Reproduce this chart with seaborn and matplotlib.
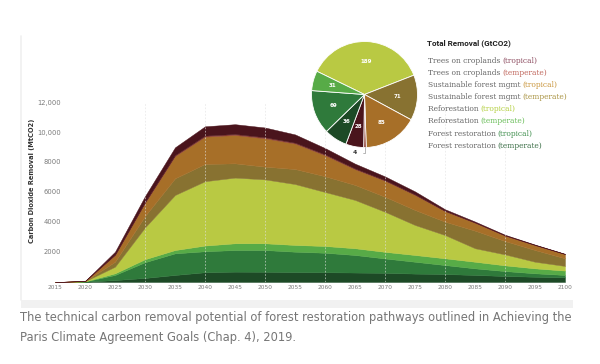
import seaborn as sns
import matplotlib.pyplot as plt
import pandas as pd
import numpy as np
from matplotlib.patches import Rectangle
from matplotlib.lines import Line2D

# data (MtCO2 per year, stacked bottom -> top)
years = [2015, 2020, 2025, 2030, 2035, 2040, 2045, 2050, 2055, 2060,
         2065, 2070, 2075, 2080, 2085, 2090, 2095, 2100]
fr_temperate = [0, 20, 130, 270, 470, 650, 690, 680, 660, 650, 630, 610, 560, 530, 470, 400, 350, 310]
fr_tropical = [0, 15, 340, 1050, 1440, 1400, 1440, 1450, 1360, 1300, 1170, 960, 790, 600, 440, 330, 230, 160]
refor_temperate = [0, 5, 110, 200, 220, 380, 450, 450, 450, 450, 450, 440, 450, 450, 440, 380, 330, 290]
refor_tropical = [0, 10, 440, 2120, 3670, 4290, 4380, 4260, 4060, 3600, 3220, 2670, 2000, 1550, 900, 730, 440, 310]
sfm_temperate = [0, 5, 330, 760, 1110, 1150, 950, 850, 1000, 1050, 1000, 1000, 1000, 890, 1170, 890, 780, 510]
sfm_tropical = [0, 10, 450, 880, 1490, 1820, 1890, 1890, 1700, 1400, 1050, 1070, 1000, 700, 530, 360, 330, 280]
crop_temperate = [0, 1, 30, 50, 60, 70, 70, 70, 60, 60, 50, 40, 40, 30, 20, 20, 10, 5]
crop_tropical = [0, 4, 190, 400, 520, 620, 650, 650, 550, 420, 320, 250, 200, 100, 60, 40, 25, 15]

ytick_vals = [2000, 4000, 6000, 8000, 10000, 12000]
ytick_labels = ["2000", "4000", "6000", "8000", "10,000", "12,000"]

# pie: total removal (GtCO2), clockwise from the top-left
pie_keys = ["refor_tropical", "sfm_temperate", "sfm_tropical", "crop_temperate",
            "crop_tropical", "fr_temperate", "fr_tropical", "refor_temperate"]
pie_values = [189, 71, 85, 4, 28, 36, 69, 31]

# legend rows: name, qualifier, key
legend_rows = [
    ("Trees on croplands ", "(tropical)", "crop_tropical"),
    ("Trees on croplands ", "(temperate)", "crop_temperate"),
    ("Sustainable forest mgmt ", "(tropical)", "sfm_tropical"),
    ("Sustainable forest mgmt ", "(temperate)", "sfm_temperate"),
    ("Reforestation ", "(tropical)", "refor_tropical"),
    ("Reforestation ", "(temperate)", "refor_temperate"),
    ("Forest restoration ", "(tropical)", "fr_tropical"),
    ("Forest restoration ", "(temperate)", "fr_temperate"),
]

df = pd.DataFrame({
    "year": years,
    "fr_temperate": fr_temperate,
    "fr_tropical": fr_tropical,
    "refor_temperate": refor_temperate,
    "refor_tropical": refor_tropical,
    "sfm_temperate": sfm_temperate,
    "sfm_tropical": sfm_tropical,
    "crop_temperate": crop_temperate,
    "crop_tropical": crop_tropical,
})
stack_order = ["fr_temperate", "fr_tropical", "refor_temperate", "refor_tropical",
               "sfm_temperate", "sfm_tropical", "crop_temperate", "crop_tropical"]

fill = {
    "fr_temperate": "#1d4a26",
    "fr_tropical": "#2f7a3b",
    "refor_temperate": "#57ab47",
    "refor_tropical": "#b9c943",
    "sfm_temperate": "#887231",
    "sfm_tropical": "#a76f28",
    "crop_temperate": "#8e3f33",
    "crop_tropical": "#4a141c",
}
text_col = {
    "crop_tropical": "#8d4c60",
    "crop_temperate": "#c0665c",
    "sfm_tropical": "#c9953b",
    "sfm_temperate": "#a99342",
    "refor_tropical": "#b3cf3e",
    "refor_temperate": "#69bd58",
    "fr_tropical": "#3f8f4d",
    "fr_temperate": "#3b6f47",
}
palette = sns.color_palette([fill[k] for k in stack_order])

sns.set_theme(style="white")
plt.rcParams['font.family'] = ['DejaVu Sans']

W, H = 600, 364
def fx(px):
    return px / W
def fy(py):
    return 1 - py / H

fig = plt.figure(figsize=(6, 3.64), dpi=100)
fig.patch.set_facecolor("white")

# panel frame
fig.add_artist(Rectangle((fx(21), fy(308)), fx(573) - fx(21), fy(300) - fy(308),
                         transform=fig.transFigure, color="#f1f1f1", lw=0, zorder=0))
fig.add_artist(Line2D([fx(21), fx(21)], [fy(300), fy(36)], transform=fig.transFigure,
                      color="#f0f0f0", lw=1.2, zorder=0))

# stacked area chart
ax = fig.add_axes([fx(55), fy(282), fx(565) - fx(55), fy(102) - fy(282)])
ax.set_facecolor("none")
ax.stackplot(df["year"], [df[k] for k in stack_order], colors=palette,
             edgecolor="face", linewidth=0.3, zorder=2)
for yr in [2030, 2040, 2050, 2060, 2070, 2080, 2090, 2100]:
    ax.axvline(yr, color="#e2e2e2", lw=0.6, ls=(0, (2, 2)), alpha=0.7, zorder=3)
ax.set_xlim(2015, 2100)
ax.set_ylim(0, 12000)
ax.set_xticks(years)
ax.set_xticklabels([str(y) for y in years])
ax.set_yticks(ytick_vals)
ax.set_yticklabels(ytick_labels)
ax.tick_params(axis="x", length=0, pad=2.5, labelsize=4.2, labelcolor="#7a7a7a")
ax.tick_params(axis="y", length=0, pad=-4.3, labelsize=4.9, labelcolor="#7a7a7a")
ax.grid(False)
sns.despine(ax=ax, left=True, bottom=True)
ax.set_xlabel("")
ax.set_ylabel("")
fig.text(fx(32), fy(181), "Carbon Dioxide Removal (MtCO2)", rotation=90,
         ha="center", va="center", fontsize=4.8, weight="bold", color="#333333")

# pie of total removal
pax = fig.add_axes([fx(311.5), fy(147.5), 106 / W, 106 / H])
wedges, _ = pax.pie(pie_values, colors=[fill[k] for k in pie_keys], startangle=154,
                    counterclock=False,
                    wedgeprops=dict(edgecolor="white", linewidth=0.6))
pax.set_xlim(-1, 1)
pax.set_ylim(-1, 1)
for w, v in zip(wedges, pie_values):
    mid = np.deg2rad((w.theta1 + w.theta2) / 2)
    if v < 10:
        pax.annotate(str(v), xy=(np.cos(mid), np.sin(mid)),
                     xytext=(-0.18, -1.1), ha="center", va="center",
                     fontsize=4.3, weight="bold", color="#333333",
                     annotation_clip=False,
                     arrowprops=dict(arrowstyle="-", color="#999999", lw=0.5,
                                     shrinkA=2, shrinkB=0,
                                     connectionstyle="angle,angleA=0,angleB=90,rad=0"))
    else:
        pax.text(np.cos(mid) * 0.62, np.sin(mid) * 0.62, str(v), ha="center",
                 va="center", fontsize=4.0, weight="bold", color="white")

# legend
fig.text(fx(427), fy(43), "Total Removal (GtCO2)", ha="left", va="center",
         fontsize=5.9, weight="bold", color="#222222", family=["Roboto", "DejaVu Sans"])
for i, (name, qual, key) in enumerate(legend_rows):
    t = fig.text(fx(427.5), fy(61 + 12.1 * i), name, ha="left", va="center",
                 fontsize=5.4, color="#666666", family=["DejaVu Serif"])
    ax.annotate(qual, xy=(1, 0.5), xycoords=t, ha="left", va="center",
                fontsize=5.4, color=text_col[key], family=["DejaVu Serif"],
                annotation_clip=False)

# caption
cap_kw = dict(ha="left", va="center", fontsize=8.3, color="#767676", family=["DejaVu Sans"])
fig.text(fx(20), fy(317), "The technical carbon removal potential of forest restoration pathways outlined in Achieving the", **cap_kw)
fig.text(fx(20), fy(338), "Paris Climate Agreement Goals (Chap. 4), 2019.", **cap_kw)

fig.savefig("out.png", dpi=100, facecolor="white")
